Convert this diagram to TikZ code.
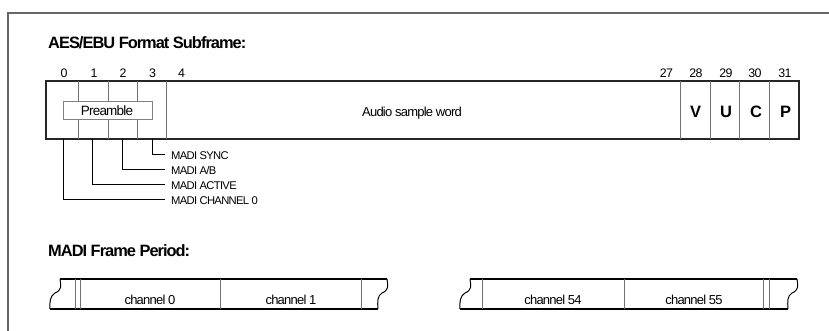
\documentclass[tikz,border=0pt]{standalone}
\usepackage{fontspec}
\setmainfont{Liberation Sans}[LetterSpace=-6]
\begin{document}
\begin{tikzpicture}[x=1pt,y=-1pt,
  frameline/.style={line width=1.3pt, draw=black!60},
  boxline/.style={line width=1.4pt, draw=black!85},
  divline/.style={line width=0.8pt, draw=black!55},
  callout/.style={line width=0.9pt, draw=black},
  squig/.style={line width=1pt, draw=black},
  bitnum/.style={font=\fontsize{12.4}{13}\selectfont, inner sep=0pt, anchor=base},
  flag/.style={font=\bfseries\fontsize{16.5}{18}\selectfont, inner sep=0pt, anchor=base},
  madi/.style={font=\fontsize{11.2}{12}\selectfont, anchor=base west, inner xsep=6pt, inner ysep=0pt},
  heading/.style={font=\bfseries\fontsize{16.4}{18}\selectfont, anchor=base west, inner sep=0pt},
  chan/.style={font=\fontsize{13}{14}\selectfont, inner sep=0pt, anchor=base},
  preamb/.style={draw=black!50, line width=0.8pt, fill=white, minimum width=89pt, minimum height=18pt, inner sep=0pt}
]
\useasboundingbox (0,0) rectangle (829,331);

% outer frame (top and left edges)
\draw[frameline] (8,331) -- (8,13) -- (829,13);

% headings
\node[heading] (t1) at (48,49) {AES/EBU Format Subframe:};
\node[heading] (t2) at (48,256.5) {MADI Frame Period:};

% subframe box
\draw[boxline] (46,81) rectangle (799,139);
\foreach \x in {78,108,137} {
  \draw[divline] (\x,81) -- (\x,101);
  \draw[divline] (\x,119) -- (\x,139);
}
\foreach \x in {166,680.7,710,739.7,769.7}
  \draw[divline] (\x,81) -- (\x,139);

% preamble box
\node[preamb] (pre) at (107.5,110) {};
\node[font=\fontsize{13.5}{14}\selectfont, inner sep=0pt, anchor=base] (pretext) at (107,116) {Preamble};

% bit numbers
\node[bitnum] (b0) at (64,77.5) {0};
\node[bitnum] (b1) at (94,77.5) {1};
\node[bitnum] (b2) at (123,77.5) {2};
\node[bitnum] (b3) at (152.5,77.5) {3};
\node[bitnum] (b4) at (181.5,77.5) {4};
\node[bitnum] (b27) at (666.5,77.5) {27};
\node[bitnum] (b28) at (696,77.5) {28};
\node[bitnum] (b29) at (726,77.5) {29};
\node[bitnum] (b30) at (755,77.5) {30};
\node[bitnum] (b31) at (785,77.5) {31};

% audio word and flags
\node[font=\fontsize{13}{14}\selectfont, inner sep=0pt, anchor=base] (asw) at (412,116.5) {Audio sample word};
\node[flag] (fv) at (695.5,117.5) {V};
\node[flag] (fu) at (726,117.5) {U};
\node[flag] (fc) at (756,117.5) {C};
\node[flag] (fp) at (785.5,117.5) {P};

% callouts
\coordinate (c3) at (152.3,139);
\coordinate (c2) at (122.3,139);
\coordinate (c1) at (92.7,139);
\coordinate (c0) at (63.3,139);
\node[madi] (m3) at (165,159.3) {MADI SYNC};
\node[madi] (m2) at (165,174.8) {MADI A/B};
\node[madi] (m1) at (165,189.3) {MADI ACTIVE};
\node[madi] (m0) at (165,204.3) {MADI CHANNEL 0};
\draw[callout] (c3) |- ([yshift=5.3pt]m3.base west);
\draw[callout] (c2) |- ([yshift=5.3pt]m2.base west);
\draw[callout] (c1) |- ([yshift=5.3pt]m1.base west);
\draw[callout] (c0) |- ([yshift=5.3pt]m0.base west);

% MADI frame segments
\foreach \L/\R in {60/387, 470/797} {
  \draw[boxline, draw=black] (\L,279) -- (\R,279);
  \draw[boxline, draw=black] (\L-10,309) -- (\R-9,309);
  \draw[squig] (\L,279) .. controls (\L+1,286) and (\L+2,290) .. (\L-5,293)
                        .. controls (\L-10,296) and (\L-10.5,302) .. (\L-10,309);
  \draw[squig] (\R,279) .. controls (\R+1,286) and (\R+2,290) .. (\R-5,293)
                        .. controls (\R-10,296) and (\R-9.5,302) .. (\R-9,309);
}
\foreach \x in {75.5,80.5,220,361.7,482.7,624,763.3,769}
  \draw[divline] (\x,279) -- (\x,309);

\node[chan] (ch0) at (150,304) {channel 0};
\node[chan] (ch1) at (291,304) {channel 1};
\node[chan] (ch54) at (553,304) {channel 54};
\node[chan] (ch55) at (694,304) {channel 55};
\end{tikzpicture}
\end{document}
